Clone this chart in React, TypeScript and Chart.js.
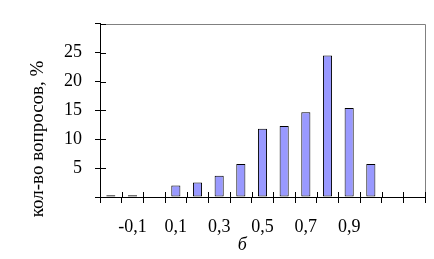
import React, { useEffect, useRef } from 'react';
import { Chart, registerables } from 'chart.js';

Chart.register(...registerables);

const categories = ['-0,2', '-0,1', '0', '0,1', '0,2', '0,3', '0,4', '0,5', '0,6', '0,7', '0,8', '0,9', '1', '1,1', '1,2'];
const shownLabels = ['-0,1', '0,1', '0,3', '0,5', '0,7', '0,9'];
const shares = [0.3, 0.3, 0, 2.0, 2.5, 3.7, 5.7, 11.8, 12.3, 14.7, 24.5, 15.4, 5.7, 0, 0];
const yTickLabels = [5, 10, 15, 20, 25];
const yTitle = 'кол-во вопросов, %';
const xTitle = 'б';

const FONT = "'Liberation Serif', 'Times New Roman', serif";

const framePlugin = {
  id: 'frame',
  afterDatasetsDraw(chart: any) {
    const { ctx, chartArea: a, scales } = chart;
    const x = scales.x;
    const y = scales.y;
    ctx.save();
    ctx.lineWidth = 1;
    ctx.strokeStyle = '#808080';
    ctx.beginPath();
    ctx.moveTo(a.left, Math.round(a.top) + 0.5);
    ctx.lineTo(Math.round(a.right) + 0.5, Math.round(a.top) + 0.5);
    ctx.lineTo(Math.round(a.right) + 0.5, a.bottom);
    ctx.stroke();
    ctx.strokeStyle = '#000';
    ctx.beginPath();
    const half = (x.getPixelForValue(1) - x.getPixelForValue(0)) / 2;
    for (let i = 0; i <= categories.length; i++) {
      const px = Math.round(x.getPixelForValue(i) - half) + 0.5;
      ctx.moveTo(px, a.bottom);
      ctx.lineTo(px, a.bottom - 5);
    }
    y.ticks.forEach((t: any) => {
      const py = Math.round(y.getPixelForValue(t.value)) + 0.5;
      ctx.moveTo(a.left, py);
      ctx.lineTo(a.left + 6, py);
    });
    ctx.stroke();
    ctx.restore();
  },
};

export default function App() {
  const ref = useRef<HTMLCanvasElement | null>(null);
  useEffect(() => {
    let chart: Chart | null = null;
    let cancelled = false;
    const build = () => {
      if (cancelled || !ref.current) return;
      chart = new Chart(ref.current, {
        type: 'bar',
        data: {
          labels: categories,
          datasets: [
            {
              data: shares,
              backgroundColor: '#9999FF',
              borderColor: '#000000',
              borderWidth: 1,
              borderSkipped: false,
              categoryPercentage: 1,
              barPercentage: 0.42,
            },
          ],
        },
        options: {
          responsive: false,
          animation: false,
          events: [],
          layout: { padding: { top: 20, right: 9, left: 0, bottom: 0 } },
          plugins: { legend: { display: false }, tooltip: { enabled: false } },
          scales: {
            x: {
              grid: {
                display: true,
                drawOnChartArea: false,
                drawTicks: true,
                tickLength: 6,
                color: '#000',
                offset: true,
              },
              border: { display: true, color: '#000', width: 1 },
              ticks: {
                autoSkip: false,
                maxRotation: 0,
                minRotation: 0,
                padding: 13,
                color: '#000',
                font: { family: FONT, size: 18 },
                callback: (_v: any, i: number) => (shownLabels.includes(categories[i]) ? categories[i] : ''),
              },
              title: {
                display: true,
                text: xTitle + '\u00A0'.repeat(9),
                color: '#000',
                font: { family: FONT, size: 18, style: 'italic' },
                padding: { top: 0, bottom: 3 },
              },
              afterFit: (s: any) => {
                s.height = 62;
              },
            },
            y: {
              min: 0,
              max: 30,
              grid: {
                display: true,
                drawOnChartArea: false,
                drawTicks: true,
                tickLength: 5,
                color: '#000',
              },
              border: { display: true, color: '#000', width: 1 },
              ticks: {
                stepSize: 5,
                padding: 13,
                color: '#000',
                font: { family: FONT, size: 18 },
                callback: (v: any) => (yTickLabels.includes(Number(v)) ? String(v) : ''),
              },
              title: {
                display: true,
                text: yTitle + '\u00A0'.repeat(12),
                color: '#000',
                font: { family: FONT, size: 19 },
                padding: { top: 27, bottom: 0 },
              },
              afterFit: (s: any) => {
                s.width = 100;
              },
            },
          },
        },
        plugins: [framePlugin],
      });
    };
    const fonts: any = (document as any).fonts;
    if (fonts && fonts.load) {
      Promise.all([
        fonts.load("18px 'Liberation Serif'", 'кол-во 0,1'),
        fonts.load("italic 18px 'Liberation Serif'", 'б'),
      ])
        .catch(() => undefined)
        .then(build);
    } else {
      build();
    }
    return () => {
      cancelled = true;
      if (chart) chart.destroy();
    };
  }, []);
  return (
    <div style={{ position: 'fixed', left: 0, top: 0, width: 434, height: 259, background: '#fff' }}>
      <canvas ref={ref} width={434} height={259} style={{ display: 'block' }} />
    </div>
  );
}
